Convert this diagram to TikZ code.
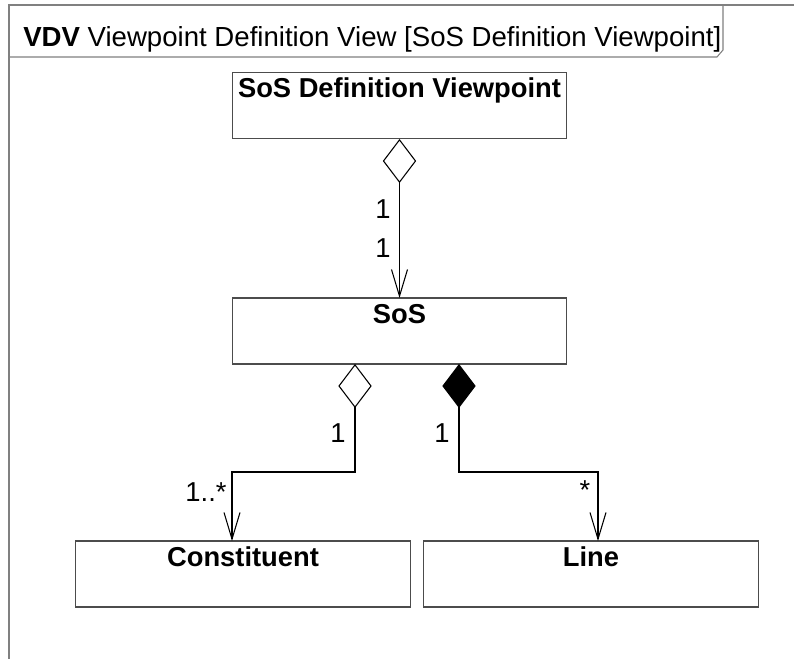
\documentclass[tikz,border=0pt]{standalone}
\usepackage{fontspec}
\setmainfont{Liberation Sans}
\usetikzlibrary{arrows.meta}
\tikzset{
  box/.style={draw=black!70, line width=0.8pt, minimum width=251pt, minimum height=49.5pt, inner sep=0pt},
  boxtitle/.style={anchor=base, font=\fontsize{20.5}{24}\selectfont\bfseries, inner sep=0pt},
  mult/.style={font=\fontsize{20.5}{24}\selectfont, inner sep=0pt},
  frameline/.style={draw=black!50, line width=0.8pt},
  conn/.style={draw=black, line width=0.8pt},
  opendia/.style={conn, {Diamond[open, fill=white, length=33pt, width=25pt, line width=0.8pt]}-{Straight Barb[length=20pt, width=12pt, line width=0.8pt]}},
  filldia/.style={conn, {Diamond[fill=black, length=33pt, width=25pt]}-{Straight Barb[length=20pt, width=12pt, line width=0.8pt]}}
}
\begin{document}
\begin{tikzpicture}[x=0.75pt,y=-0.75pt]
\useasboundingbox (0,0) rectangle (794,659);
% frame
\path[frameline] (9,700) -- (9,5) -- (800,5);
\path[frameline] (723,5) -- (723,50) -- (717,57) -- (9,57);
\node[anchor=base west, inner sep=0pt, font=\fontsize{20.7}{24}\selectfont] (title) at (23,47) {\textbf{VDV} Viewpoint Definition View [SoS Definition Viewpoint]};
% boxes
\node[box] (sdv) at (399.5,105.5) {};
\node[boxtitle] (sdvt) at (399.5,98) {SoS Definition Viewpoint};
\node[box] (sos) at (399.5,331) {};
\node[boxtitle] (sost) at (399.5,324) {SoS};
\node[box] (con) at (243,574) {};
\node[boxtitle] (cont) at (243,567) {Constituent};
\node[box] (line) at (591,574) {};
\node[boxtitle] (linet) at (591,567) {Line};
% connector points
\coordinate (s1) at (399.5,139);
\coordinate (e1) at (399.5,298);
\coordinate (s2) at (355,364);
\coordinate (e2) at (232,541);
\coordinate (s3) at (459,364);
\coordinate (e3) at (598,541);
\draw[opendia] (s1) -- (e1);
\draw[opendia] (s2) -- (355,472) -| (e2);
\draw[filldia] (s3) -- (459,472) -| (e3);
% multiplicities
\node[mult] (m1) at (383,209) {1};
\node[mult] (m2) at (383,248) {1};
\node[mult] (m3) at (338,433) {1};
\node[mult] (m4) at (442,433) {1};
\node[mult] (m5) at (206,492) {1..*};
\node[mult] (m6) at (585,490) {*};
\end{tikzpicture}
\end{document}
